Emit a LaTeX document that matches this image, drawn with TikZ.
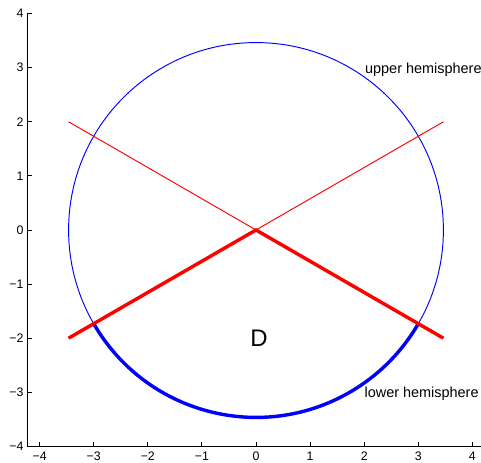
\documentclass[tikz,border=0pt]{standalone}
\usepackage{fontspec}
\setmainfont{Liberation Sans}
\begin{document}
\begin{tikzpicture}[x=1cm,y=1cm,
  axisline/.style={black, line width=0.5pt},
  tickmark/.style={black, line width=0.5pt},
  ticklbl/.style={inner sep=0pt, font=\fontsize{6.5}{7.5}\selectfont},
  lbl/.style={inner sep=0pt, anchor=base west, font=\fontsize{7.6}{9}\selectfont},
  biglbl/.style={inner sep=0pt, anchor=base west, font=\fontsize{12.6}{15}\selectfont},
  thinblue/.style={blue, line width=0.5pt},
  thickblue/.style={blue, line width=1.8pt},
  thinred/.style={red, line width=0.5pt},
  thickred/.style={red, line width=1.8pt}]
\useasboundingbox (-4.732,-4.307) rectangle (4.159,4.251);
% axes
\coordinate (AxTop) at (-4.224,4);
\coordinate (AxOrig) at (-4.224,-4);
\coordinate (AxRight) at (4.2,-4);
\draw[axisline] (AxTop) -- (AxOrig) -- (AxRight);
\foreach \v/\t in {-4/−4,-3/−3,-2/−2,-1/−1,0/0,1/1,2/2,3/3,4/4} {
  \draw[tickmark] (\v,-4) -- (\v,-3.915);
  \node[ticklbl, anchor=north] (xl\v) at (\v,-4.098) {\t};
  \draw[tickmark] (-4.224,\v) -- (-4.139,\v);
  \node[ticklbl, anchor=east] (yl\v) at (-4.29,\v) {\t};
}
% circle
\coordinate (O) at (0,0);
\draw[thinblue] (O) circle (3.4641);
\draw[thickblue] (210:3.4641) arc (210:330:3.4641);
% lines
\coordinate (UL) at (-3.4641,2);
\coordinate (UR) at (3.4641,2);
\coordinate (LL) at (-3.4641,-2);
\coordinate (LR) at (3.4641,-2);
\draw[thinred] (UL) -- (O) -- (UR);
\draw[thickred] (LL) -- (O) -- (LR);
% labels
\node[lbl] (up) at (2.01,2.89) {upper hemisphere};
\node[lbl] (low) at (2.0,-3.105) {lower hemisphere};
\node[biglbl] (D) at (-0.11,-2.16) {D};
\end{tikzpicture}
\end{document}
